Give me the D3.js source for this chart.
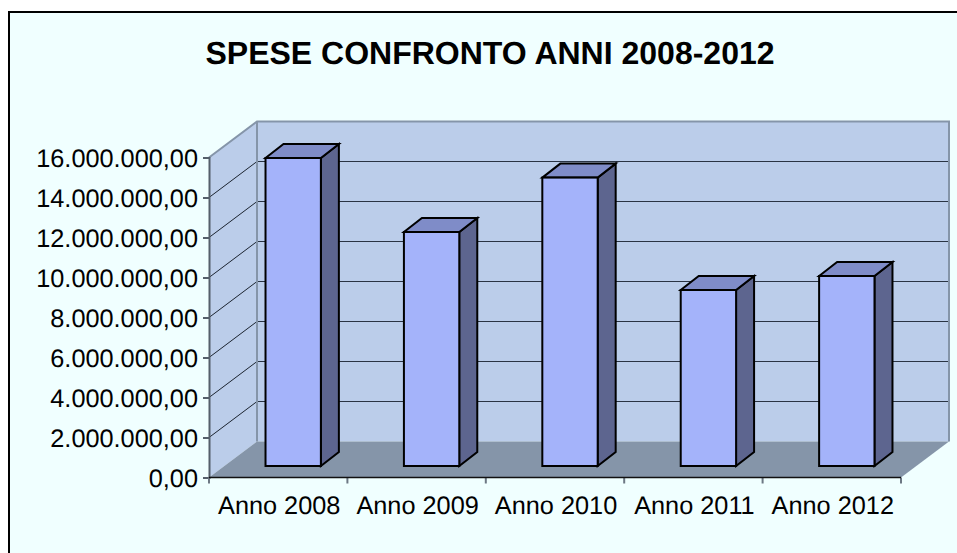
<!DOCTYPE html>
<html lang="en">
<head>
<meta charset="UTF-8">
<title>Spese confronto anni</title>
<script src="https://cdn.jsdelivr.net/npm/d3@7"></script>
<style>
    html, body { margin: 0; padding: 0; background: #fff; }
    svg { display: block; }
    text { font-family: 'Liberation Sans', Arial, sans-serif; fill: #000; text-rendering: geometricPrecision; }
</style>
</head>
<body>
<div id="chart"></div>
<script>
const categories = ['Anno 2008', 'Anno 2009', 'Anno 2010', 'Anno 2011', 'Anno 2012'];
const spese = [15400000, 11700000, 14420000, 8800000, 9500000];
const yTicks = [0, 2000000, 4000000, 6000000, 8000000, 10000000, 12000000, 14000000, 16000000];
const chartTitle = 'SPESE CONFRONTO ANNI 2008-2012';

const width = 957, height = 553;
const plotLeft = 209, plotRight = 901, plotTop = 157.5, plotBottom = 477.5;
const depthX = 48, depthY = -36;        // floor depth
const barShiftX = 15, barShiftY = -11.5; // bar front sits this far back
const barDepthX = 18, barDepthY = -14;

const it = d3.formatLocale({ decimal: ',', thousands: '.', grouping: [3], currency: ['', ''] });
const fmt = it.format(',.2f');

const x = d3.scaleBand().domain(categories).range([plotLeft, plotRight]);
const y = d3.scaleLinear().domain([0, 16000000]).range([plotBottom, plotTop]);
const barWidth = x.bandwidth() * 0.4;

const svg = d3.select('#chart').append('svg').attr('width', width).attr('height', height);

// frame
svg.append('rect').attr('x', 9).attr('y', 12).attr('width', 960).attr('height', 560)
    .attr('fill', '#f0ffff').attr('stroke', '#000').attr('stroke-width', 2);

svg.append('text').attr('x', 490).attr('y', 64).attr('text-anchor', 'middle')
    .attr('font-size', 32).attr('font-weight', 700).text(chartTitle);

const poly = pts => pts.map(p => p.join(',')).join(' ');

// walls
svg.append('polygon')
    .attr('points', poly([[plotLeft, plotTop], [plotLeft + depthX, plotTop + depthY], [plotLeft + depthX, plotBottom + depthY], [plotLeft, plotBottom]]))
    .attr('fill', '#bbcdea');
svg.append('rect')
    .attr('x', plotLeft + depthX).attr('y', plotTop + depthY)
    .attr('width', plotRight - plotLeft).attr('height', plotBottom - plotTop)
    .attr('fill', '#bbcdea');

// gridlines along left wall and back wall
const grid = svg.append('g');
grid.selectAll('line.side').data(yTicks.slice(1, -1)).enter().append('line')
    .attr('class', 'side')
    .attr('x1', plotLeft).attr('y1', d => y(d))
    .attr('x2', plotLeft + depthX).attr('y2', d => y(d) + depthY)
    .attr('stroke', '#1c2430').attr('stroke-width', 1);
grid.selectAll('line.back').data(yTicks.slice(1, -1)).enter().append('line')
    .attr('class', 'back')
    .attr('x1', plotLeft + depthX).attr('y1', d => y(d) + depthY)
    .attr('x2', plotRight + depthX).attr('y2', d => y(d) + depthY)
    .attr('stroke', '#2a3444').attr('stroke-width', 1.2);

// floor
svg.append('polygon')
    .attr('points', poly([[plotLeft, plotBottom], [plotLeft + depthX, plotBottom + depthY], [plotRight + depthX, plotBottom + depthY], [plotRight, plotBottom]]))
    .attr('fill', '#8595a9');

// wall edges
svg.append('polyline')
    .attr('points', poly([[plotLeft, plotTop], [plotLeft + depthX, plotTop + depthY], [plotRight + depthX, plotTop + depthY], [plotRight + depthX, plotBottom + depthY]]))
    .attr('fill', 'none').attr('stroke', '#8595a9').attr('stroke-width', 2);
svg.append('line')
    .attr('x1', plotLeft + depthX).attr('y1', plotTop + depthY)
    .attr('x2', plotLeft + depthX).attr('y2', plotBottom + depthY)
    .attr('stroke', '#8595a9').attr('stroke-width', 2);

// bars
const bars = svg.selectAll('g.bar').data(categories).enter().append('g').attr('class', 'bar');
const front = (c, i) => {
    const x0 = x(c) + (x.bandwidth() - barWidth) / 2 + barShiftX;
    return { x0, x1: x0 + barWidth, y0: y(spese[i]) + barShiftY, y1: y(0) + barShiftY };
};
const barStroke = sel => sel.attr('stroke', '#000').attr('stroke-width', 2).attr('stroke-linejoin', 'miter');

bars.append('polygon')
    .attr('points', (c, i) => {
        const f = front(c, i);
        return poly([[f.x1, f.y0], [f.x1 + barDepthX, f.y0 + barDepthY], [f.x1 + barDepthX, f.y1 + barDepthY], [f.x1, f.y1]]);
    })
    .attr('fill', '#5d658f').call(barStroke);
bars.append('polygon')
    .attr('points', (c, i) => {
        const f = front(c, i);
        return poly([[f.x0, f.y0], [f.x0 + barDepthX, f.y0 + barDepthY], [f.x1 + barDepthX, f.y0 + barDepthY], [f.x1, f.y0]]);
    })
    .attr('fill', '#7f8cc8').call(barStroke);
bars.append('rect')
    .attr('x', (c, i) => front(c, i).x0)
    .attr('y', (c, i) => front(c, i).y0)
    .attr('width', barWidth)
    .attr('height', (c, i) => front(c, i).y1 - front(c, i).y0)
    .attr('fill', '#a4b3fa').call(barStroke);

// axes
const yAxis = svg.append('g').attr('transform', `translate(${plotLeft},0)`)
    .call(d3.axisLeft(y).tickValues(yTicks).tickFormat(fmt).tickSize(6).tickPadding(5));
yAxis.selectAll('text').attr('font-size', 25.3).attr('dy', '0.36em');
yAxis.selectAll('line').attr('stroke', '#555f6b').attr('stroke-width', 2);
yAxis.select('.domain').attr('stroke', '#555f6b').attr('stroke-width', 2);

const xAxis = svg.append('g').attr('transform', `translate(1,${plotBottom})`)
    .call(d3.axisBottom(x).tickSize(0).tickPadding(0));
xAxis.select('.domain').remove();
xAxis.selectAll('text').attr('font-size', 25.3).attr('y', 36).attr('dy', 0);

// category separators, plus the baseline on top of the floor edge
const edges = x.domain().map(c => x(c)).concat(plotRight);
svg.selectAll('line.xtick').data(edges).enter().append('line')
    .attr('class', 'xtick')
    .attr('x1', d => d).attr('x2', d => d)
    .attr('y1', plotBottom).attr('y2', plotBottom + 6)
    .attr('stroke', '#6d7884').attr('stroke-width', 2);
svg.append('line').attr('x1', plotLeft).attr('x2', plotRight).attr('y1', plotBottom).attr('y2', plotBottom)
    .attr('stroke', '#111').attr('stroke-width', 1.5);
</script>
</body>
</html>
